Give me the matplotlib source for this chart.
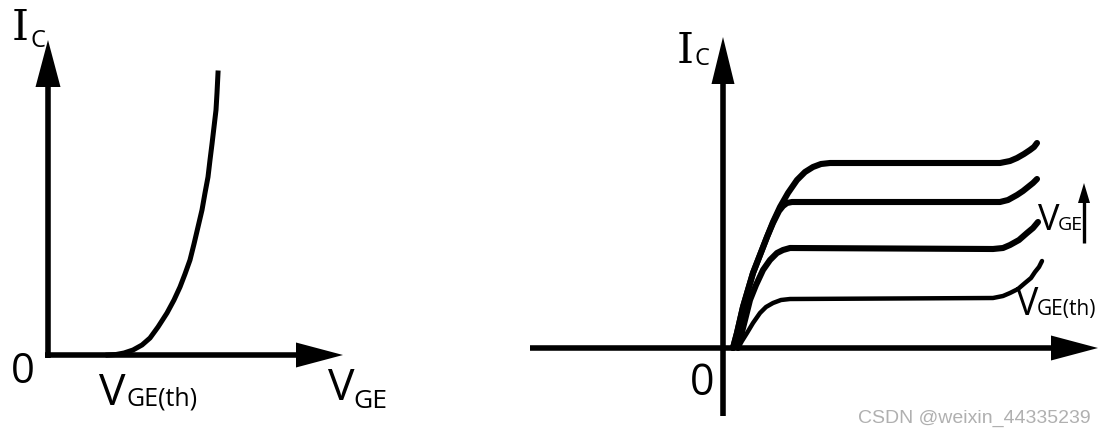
import matplotlib.pyplot as plt
from matplotlib.patches import FancyArrow

# transfer characteristic  (V_GE, I_C), origin = axis corner, 1 unit ~ 1 px
trans_v = [60, 68, 76, 85, 94, 102, 110, 119, 126, 132, 137, 142, 146, 150,
           154, 157, 160, 162, 164, 166, 168, 169, 170]
trans_i = [0, 0.5, 2, 5, 10, 17, 28, 42, 55, 68, 81, 95, 111, 128,
           145, 162, 178, 195, 211, 228, 245, 262, 282]

# output characteristic, one curve per V_GE step (top to bottom)
out_v = [
    [10, 14, 17, 20, 25, 30, 37, 44, 50, 57, 65, 74, 82, 90, 98, 107,
     277, 287, 294, 301, 307, 311, 314],
    [10, 14, 17, 20, 25, 30, 37, 44, 50, 56, 60, 64, 69, 74,
     277, 285, 294, 300, 305, 310, 314],
    [15, 19, 23, 27, 33, 40, 47, 54, 60, 67, 270, 280, 287, 296, 304, 310, 315],
    [15, 19, 24, 30, 37, 43, 50, 58, 67, 270, 280, 287, 295, 302, 308, 312, 316, 319],
]
out_i = [
    [0, 15, 28, 41, 58, 75, 93, 111, 126, 141, 155, 168, 176, 181, 184, 185,
     185, 187, 190, 194, 198, 201, 205],
    [0, 15, 28, 41, 58, 75, 93, 111, 125, 137, 142, 145, 146, 146,
     146, 148, 153, 157, 161, 165, 169],
    [0, 16, 32, 48, 63, 78, 88, 95, 98, 100, 99, 100, 103, 108, 115, 120, 126],
    [0, 7, 15, 25, 35, 41, 45, 48, 49, 50, 52, 55, 59, 65, 70, 76, 81, 87],
]
out_lw = [4.4, 4.4, 4.4, 3.2]

W, H = 1105, 434
fig = plt.figure(figsize=(W / 100, H / 100), dpi=100)

sans = ['Open Sans', 'DejaVu Sans']
serif = ['DejaVu Serif']
AX_LW = 4.0


def arrow(ax, x, y, dx, dy, hw=25, hl=47):
    ax.add_patch(FancyArrow(x, y, dx, dy, width=0, head_width=hw, head_length=hl,
                            length_includes_head=True, color='black', lw=0))


# left panel: origin at pixel (48, 355)
axl = fig.add_axes([0, 0, 400 / W, 1])
axl.set_xlim(-48, 352)
axl.set_ylim(-79, 355)
axl.axis('off')
axl.plot([-3, 255], [0, 0], color='black', lw=AX_LW, solid_capstyle='butt')
axl.plot([0, 0], [-3, 275], color='black', lw=AX_LW, solid_capstyle='butt')
arrow(axl, 247, 0, 48, 0)
arrow(axl, 0, 265, 0, 50)
axl.plot(trans_v, trans_i, color='black', lw=3.6, solid_joinstyle='round')

axl.text(-36, 315, 'I', family=serif, fontsize=31, va='baseline')
axl.text(-18, 308, 'C', family=sans, fontsize=17, va='baseline')
axl.text(-37, -28, '0', family=sans, fontsize=30, va='baseline')
axl.text(51, -50, 'V', family=sans, fontsize=32, va='baseline')
axl.text(79, -50, 'GE(th)', family=sans, fontsize=18, va='baseline')
axl.text(280, -45, 'V', family=sans, fontsize=32, va='baseline')
axl.text(305, -53, 'GE', family=sans, fontsize=19, va='baseline')

# right panel: origin at pixel (723, 348)
axr = fig.add_axes([500 / W, 0, 605 / W, 1])
axr.set_xlim(-223, 382)
axr.set_ylim(-86, 348)
axr.axis('off')
axr.plot([-193, 330], [0, 0], color='black', lw=AX_LW, solid_capstyle='butt')
axr.plot([0, 0], [-68, 280], color='black', lw=AX_LW, solid_capstyle='butt')
arrow(axr, 328, 0, 47, 0)
arrow(axr, 0, 264, 0, 47, hw=23)

for xs, ys, lw in zip(out_v, out_i, out_lw):
    axr.plot(xs, ys, color='black', lw=lw, solid_joinstyle='round', solid_capstyle='round')

axr.text(-46, 285, 'I', family=serif, fontsize=31, va='baseline')
axr.text(-28, 283, 'C', family=sans, fontsize=17, va='baseline')
axr.text(-33, -47, '0', family=sans, fontsize=31, va='baseline')
axr.text(315, 118, 'V', family=sans, fontsize=26, va='baseline')
axr.text(335, 118, 'GE', family=sans, fontsize=14, va='baseline')
axr.plot([361, 361], [105, 150], color='black', lw=2.4, solid_capstyle='butt')
arrow(axr, 361, 140, 0, 25, hw=12, hl=20)
axr.text(293, 33, 'V', family=sans, fontsize=27, va='baseline')
axr.text(314, 33, 'GE(th)', family=sans, fontsize=15, va='baseline')

fig.text(858 / W, 1 - 423 / H, 'CSDN @weixin_44335239', family=['Liberation Sans'],
         fontsize=14, color='#b0b0b0', va='baseline')

fig.savefig('out.png', dpi=100)
